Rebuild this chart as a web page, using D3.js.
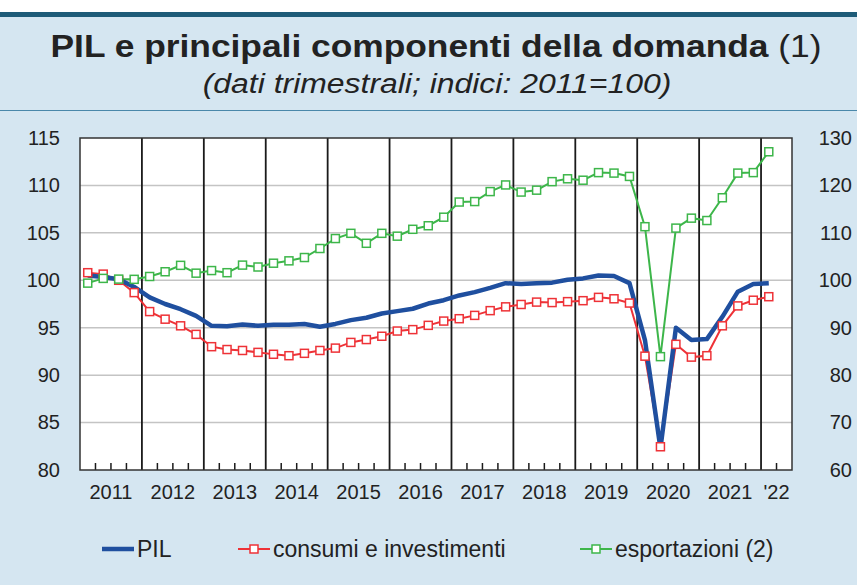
<!DOCTYPE html>
<html>
<head>
<meta charset="utf-8">
<script src="https://cdn.jsdelivr.net/npm/d3@7"></script>
<style>
  body { margin: 0; background: #d5e6f1; }
  svg { display: block; font-family: "Liberation Sans", Arial, sans-serif; }
</style>
</head>
<body>
<div id="chart"></div>
<script>
// quarterly data 2011Q1 .. 2022Q1
const quarters = d3.range(45).map((i) => 2011 + i / 4);
const pil = [100.5, 100.35, 100.1, 99.3, 98.2, 97.5, 96.95, 96.25, 95.2, 95.15, 95.35, 95.2,
  95.3, 95.3, 95.4, 95.1, 95.4, 95.8, 96.05, 96.5, 96.75, 97.0, 97.55, 97.9,
  98.4, 98.75, 99.2, 99.7, 99.6, 99.7, 99.75, 100.05, 100.2, 100.5, 100.45, 99.7,
  93.7, 82.3, 95.0, 93.7, 93.8, 96.15, 98.8, 99.6, 99.7];
const consumi = [100.8, 100.65, 100.0, 98.7, 96.7, 95.9, 95.2, 94.3, 93.0, 92.7, 92.6, 92.4,
  92.2, 92.05, 92.3, 92.6, 92.85, 93.45, 93.75, 94.1, 94.65, 94.8, 95.25, 95.7,
  95.95, 96.3, 96.8, 97.2, 97.45, 97.7, 97.65, 97.75, 97.85, 98.2, 98.05, 97.6,
  92.0, 82.45, 93.25, 91.9, 92.05, 95.2, 97.3, 97.9, 98.27];
const esportazioni = [99.4, 100.4, 100.25, 100.2, 100.8, 101.8, 103.15, 101.5, 102.05, 101.6, 103.2, 102.8,
  103.6, 104.1, 104.8, 106.7, 108.8, 109.9, 107.8, 109.9, 109.3, 110.75, 111.5, 113.3,
  116.5, 116.6, 118.7, 120.1, 118.6, 119.0, 120.8, 121.4, 121.1, 122.7, 122.6, 121.9,
  111.3, 83.9, 111.0, 113.1, 112.6, 117.4, 122.6, 122.7, 127.1];
const leftTicks = [80, 85, 90, 95, 100, 105, 110, 115];
const rightTicks = [60, 70, 80, 90, 100, 110, 120, 130];
const yearLabels = ["2011", "2012", "2013", "2014", "2015", "2016", "2017", "2018", "2019", "2020", "2021", "'22"];

const W = 857, H = 585;
const margin = { top: 138, right: 65, bottom: 115, left: 80 };
const width = W - margin.left - margin.right;
const height = H - margin.top - margin.bottom;

const svg = d3.select("#chart").append("svg").attr("width", W).attr("height", H);

// header
svg.append("rect").attr("width", W).attr("height", H).attr("fill", "#d5e6f1");
svg.append("rect").attr("width", W).attr("height", 12).attr("fill", "#ffffff");
svg.append("rect").attr("y", 12).attr("width", W).attr("height", 5).attr("fill", "#1d5b78");
svg.append("line").attr("x1", 0).attr("x2", W).attr("y1", 110.5).attr("y2", 110.5)
  .attr("stroke", "#4a88aa").attr("stroke-width", 1.2);

// header text is a bit wider than Arial in the original, hence the scaleX
const title = svg.append("text").attr("transform", "translate(436,57) scale(1.14,1)")
  .attr("text-anchor", "middle").attr("font-size", 31).attr("fill", "#222");
title.append("tspan").attr("font-weight", "bold").text("PIL e principali componenti della domanda");
title.append("tspan").text(" (1)");
svg.append("text").attr("transform", "translate(437,93) scale(1.14,1)").attr("text-anchor", "middle")
  .attr("font-size", 28).attr("font-style", "italic").attr("fill", "#222")
  .text("(dati trimestrali; indici: 2011=100)");

const g = svg.append("g").attr("transform", `translate(${margin.left},${margin.top})`);

const x = d3.scaleLinear().domain([2011, 2022.5]).range([0, width]);
const y = d3.scaleLinear().domain([80, 115]).range([height, 0]);
const y2 = d3.scaleLinear().domain([60, 130]).range([height, 0]);
const xc = (d) => x(d + 0.125);

g.append("rect").attr("width", width).attr("height", height).attr("fill", "#ffffff");

// horizontal grid
g.selectAll(".grid").data(leftTicks.slice(1, -1)).enter().append("line")
  .attr("x1", 0).attr("x2", width)
  .attr("y1", (d) => y(d)).attr("y2", (d) => y(d))
  .attr("stroke", "#c4c4c4").attr("stroke-width", 1.5);

// year separators
g.selectAll(".yr").data(d3.range(2012, 2023)).enter().append("line")
  .attr("x1", (d) => x(d)).attr("x2", (d) => x(d))
  .attr("y1", 0).attr("y2", height)
  .attr("stroke", "#1a1a1a").attr("stroke-width", 1.8);

// quarter ticks
const qTicks = d3.range(45).map((i) => 2011 + (i + 1) / 4).filter((d) => d % 1 !== 0 && d < 2022.5);
g.selectAll(".qt").data(qTicks).enter().append("line")
  .attr("x1", (d) => x(d)).attr("x2", (d) => x(d))
  .attr("y1", height).attr("y2", height - 7)
  .attr("stroke", "#1a1a1a").attr("stroke-width", 1.5);

g.append("rect").attr("width", width).attr("height", height).attr("fill", "none")
  .attr("stroke", "#333").attr("stroke-width", 1.5);

// axes labels
const yAxis = g.append("g").call(d3.axisLeft(y).tickValues(leftTicks).tickSize(0).tickPadding(20));
const y2Axis = g.append("g").attr("transform", `translate(${width},0)`)
  .call(d3.axisRight(y2).tickValues(rightTicks).tickSize(0).tickPadding(13));
[yAxis, y2Axis].forEach((a) => {
  a.select(".domain").remove();
  a.selectAll("text").attr("font-size", 20).attr("fill", "#222").attr("font-family", null);
});
y2Axis.selectAll("text").attr("text-anchor", "end").attr("dx", 47);

g.selectAll(".yl").data(yearLabels).enter().append("text")
  .attr("x", (d, i) => i < 11 ? x(2011.5 + i) : x(2022.25))
  .attr("y", height + 29).attr("text-anchor", "middle")
  .attr("font-size", 20).attr("fill", "#222").text((d) => d);

// series
const line = (scale, vals) => d3.line().x((d, i) => xc(quarters[i])).y((d) => scale(d))(vals);

g.append("path").attr("d", line(y2, esportazioni)).attr("fill", "none")
  .attr("stroke", "#3db64a").attr("stroke-width", 2);
g.append("path").attr("d", line(y, consumi)).attr("fill", "none")
  .attr("stroke", "#ee3237").attr("stroke-width", 2);
g.append("path").attr("d", line(y, pil)).attr("fill", "none")
  .attr("stroke", "#1f4f9f").attr("stroke-width", 4.5).attr("stroke-linejoin", "round");

const markers = (vals, scale, color) => {
  g.append("g").selectAll("rect").data(vals).enter().append("rect")
    .attr("x", (d, i) => xc(quarters[i]) - 4).attr("y", (d) => scale(d) - 4)
    .attr("width", 8).attr("height", 8)
    .attr("fill", "#ffffff").attr("stroke", color).attr("stroke-width", 1.5);
};
markers(consumi, y, "#ee3237");
markers(esportazioni, y2, "#3db64a");

// legend
const legend = [
  { label: "PIL", color: "#1f4f9f", x: 102, w: 4.5, marker: false },
  { label: "consumi e investimenti", color: "#ee3237", x: 238, w: 2, marker: true },
  { label: "esportazioni (2)", color: "#3db64a", x: 580, w: 2, marker: true },
];
const lg = svg.append("g").selectAll("g").data(legend).enter().append("g")
  .attr("transform", (d) => `translate(${d.x},549)`);
lg.append("line").attr("x1", 0).attr("x2", 32).attr("stroke", (d) => d.color).attr("stroke-width", (d) => d.w);
lg.filter((d) => d.marker).append("rect").attr("x", 12).attr("y", -4).attr("width", 8).attr("height", 8)
  .attr("fill", "#fff").attr("stroke", (d) => d.color).attr("stroke-width", 1.5);
lg.append("text").attr("x", 35).attr("y", 8).attr("font-size", 23).attr("fill", "#222").text((d) => d.label);
</script>
</body>
</html>
